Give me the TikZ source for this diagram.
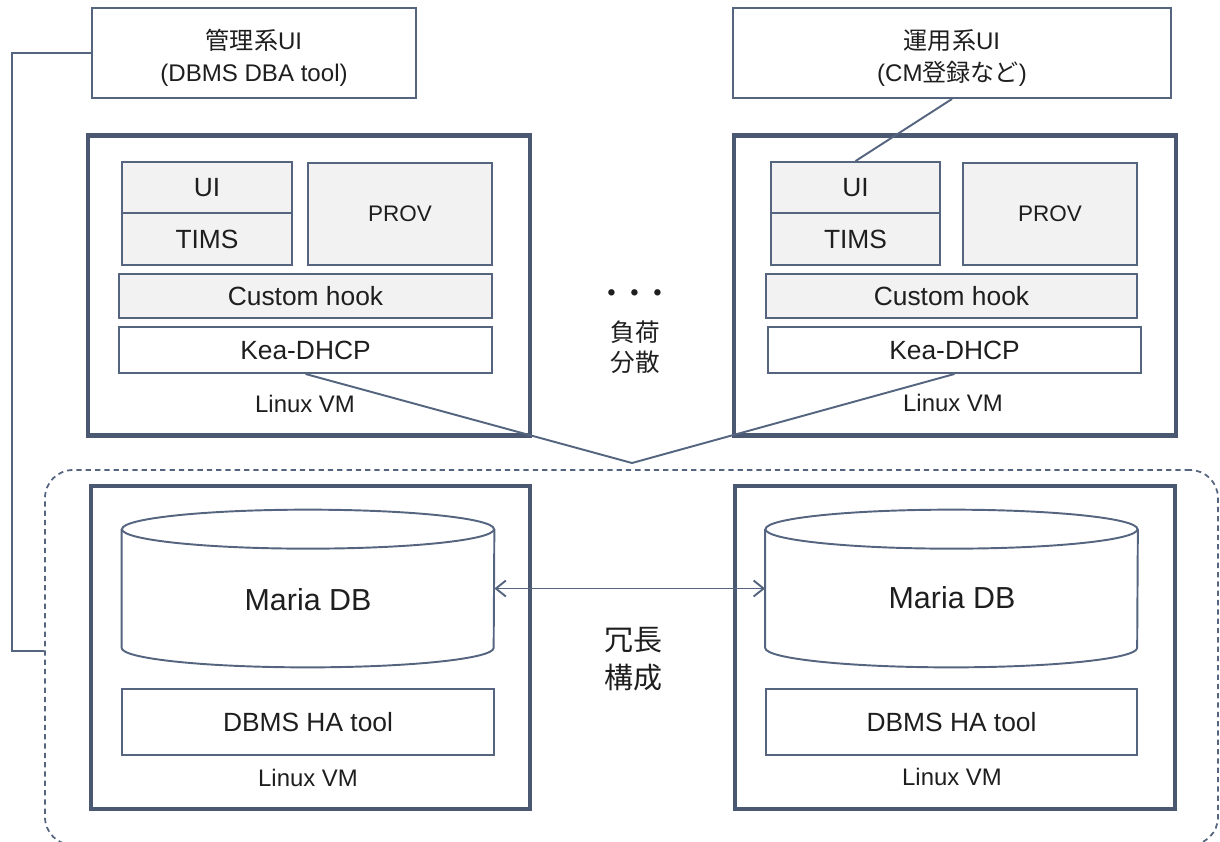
\documentclass[tikz,border=0pt]{standalone}
\usepackage{fontspec}
\setmainfont{Liberation Sans}
\newfontfamily\jp{Noto Sans CJK JP}
\usetikzlibrary{arrows.meta}
\definecolor{edge}{HTML}{4A5872}
\definecolor{thin}{HTML}{55657F}
\definecolor{pane}{HTML}{F2F2F2}
\definecolor{ink}{HTML}{1E1E1E}

\begin{document}
\begin{tikzpicture}[
  box/.style={draw=thin,line width=1.1pt,text=ink,align=center,inner sep=0pt,font=\fontsize{15}{18}\selectfont},
  part/.style={box,fill=pane},
  vm/.style={draw=edge,line width=2.4pt,inner sep=0pt},
  tag/.style={text=ink,inner sep=0pt,font=\fontsize{13.6}{16}\selectfont},
  link/.style={draw=thin,line width=1.1pt},
  db/.style={inner sep=0pt,minimum width=7.44cm,minimum height=3.14cm}]
\useasboundingbox (0,0) rectangle (24.4,-16.82);
\node[draw=thin,line width=1pt,dash pattern=on 3pt off 2.3pt,rounded corners=0.56cm,minimum width=23.46cm,minimum height=7.5cm](grp) at (12.63,-13.15){} ;
\node[box,minimum width=6.48cm,minimum height=1.8cm,font=\fontsize{13.7}{18}\selectfont](mgmt) at (5.08,-1.06){\rule{0pt}{17pt}{\jp 管理系}UI\\(DBMS DBA tool)} ;
\node[box,minimum width=8.76cm,minimum height=1.8cm,font=\fontsize{13.7}{18}\selectfont](ops) at (19.04,-1.06){\rule{0pt}{17pt}{\jp 運用系}UI\\(CM{\jp 登録など})} ;
\node[vm,minimum width=8.84cm,minimum height=6cm](vmL) at (6.18,-5.71){} ;
\node[vm,minimum width=8.84cm,minimum height=6cm](vmR) at (19.10,-5.71){} ;
\node[part,minimum width=3.4cm,minimum height=1.02cm](uiL) at (4.14,-3.75){UI} ;
\node[part,minimum width=3.4cm,minimum height=1.04cm](timsL) at (4.14,-4.78){TIMS} ;
\node[part,minimum width=3.68cm,minimum height=2.04cm,font=\fontsize{12.8}{15}\selectfont](provL) at (8.0,-4.28){PROV} ;
\node[part,minimum width=7.46cm,minimum height=0.88cm](hookL) at (6.11,-5.92){Custom hook} ;
\node[box,minimum width=7.46cm,minimum height=0.92cm](keaL) at (6.11,-7.0){Kea-DHCP} ;
\node[tag](osL) at (6.1,-8.08){Linux VM} ;
\node[part,minimum width=3.38cm,minimum height=1.02cm](uiR) at (17.11,-3.75){UI} ;
\node[part,minimum width=3.38cm,minimum height=1.04cm](timsR) at (17.11,-4.78){TIMS} ;
\node[part,minimum width=3.48cm,minimum height=2.04cm,font=\fontsize{12.8}{15}\selectfont](provR) at (21.0,-4.28){PROV} ;
\node[part,minimum width=7.42cm,minimum height=0.88cm](hookR) at (19.03,-5.92){Custom hook} ;
\node[box,minimum width=7.46cm,minimum height=0.92cm](keaR) at (19.09,-7.0){Kea-DHCP} ;
\node[tag](osR) at (19.06,-8.06){Linux VM} ;
\node[font=\jp\bfseries\fontsize{13}{15}\selectfont,text=ink,inner sep=0pt](dots) at (12.7,-5.92){・・・} ;
\node[font=\jp\fontsize{14}{17}\selectfont,text=ink,align=center,inner sep=0pt](lb) at (12.7,-6.94){負荷\\分散} ;
\node[vm,minimum width=8.78cm,minimum height=6.46cm](dbvmL) at (6.21,-12.95){} ;
\node[vm,minimum width=8.8cm,minimum height=6.46cm](dbvmR) at (19.1,-12.95){} ;
\node[db](cylL) at (6.16,-11.77){} ;
\node[db](cylR) at (19.03,-11.77){} ;
\foreach \c in {cylL,cylR}{
  \draw[link] ([yshift=-0.39cm]\c.north west) -- ([yshift=0.39cm]\c.south west)
    arc[start angle=180,end angle=360,x radius=3.72cm,y radius=0.39cm] -- ([yshift=-0.39cm]\c.north east) ;
  \draw[link] ([yshift=-0.39cm]\c.north) ellipse[x radius=3.72cm,y radius=0.39cm] ;
}
\node[text=ink,font=\fontsize{17.3}{20}\selectfont,inner sep=0pt](mariaL) at (6.16,-12.0){Maria DB} ;
\node[text=ink,font=\fontsize{17.3}{20}\selectfont,inner sep=0pt](mariaR) at (19.04,-11.96){Maria DB} ;
\node[box,minimum width=7.44cm,minimum height=1.32cm](haL) at (6.16,-14.44){DBMS HA tool} ;
\node[box,minimum width=7.42cm,minimum height=1.32cm](haR) at (19.03,-14.44){DBMS HA tool} ;
\node[tag](osL2) at (6.16,-15.56){Linux VM} ;
\node[tag](osR2) at (19.04,-15.54){Linux VM} ;
\node[font=\jp\fontsize{16.5}{21.5}\selectfont,text=ink,align=center,inner sep=0pt](dup) at (12.66,-13.18){冗長\\構成} ;
\coordinate(apex) at (12.64,-9.26) ;
\draw[link](keaL.south) -- (apex) -- (keaR.south) ;
\draw[link](ops.south) -- (uiR.north) ;
\draw[link](mgmt.west) -- (0.24,-1.06) |- ([yshift=0.13cm]grp.west) ;
\draw[link,{Straight Barb[length=2mm,width=3.2mm]}-{Straight Barb[length=2mm,width=3.2mm]}](cylL.east) -- (cylR.west) ;
\end{tikzpicture}
\end{document}
